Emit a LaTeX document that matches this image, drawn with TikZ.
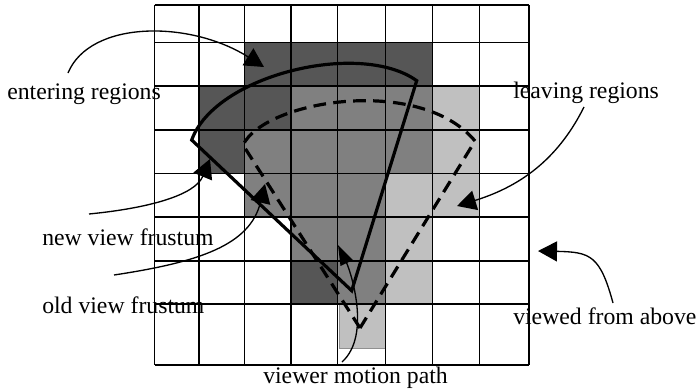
\documentclass[tikz,border=0pt]{standalone}
\usepackage{fontspec}
\setmainfont{Liberation Serif}
\usetikzlibrary{arrows.meta}
\definecolor{dkcell}{RGB}{86,86,86}
\definecolor{mdcell}{RGB}{128,128,128}
\definecolor{ltcell}{RGB}{192,192,192}
\begin{document}
\begin{tikzpicture}[x=0.75pt,y=-0.75pt,
  gridline/.style={line width=1.2pt, black},
  darkcell/.style={fill=dkcell, draw=dkcell!85!black, line width=0.6pt},
  midcell/.style={fill=mdcell, draw=mdcell!85!black, line width=0.6pt},
  lightcell/.style={fill=ltcell, draw=ltcell!75!black, line width=0.6pt},
  lbl/.style={font=\fontsize{17.8pt}{20pt}\selectfont, inner sep=0pt, anchor=base west},
  pointer/.style={line width=1pt, -{Triangle[length=14.25pt,width=15pt]}},
  motionarrow/.style={line width=1pt, -{Triangle[length=15pt,width=10pt]}},
  frust/.style={line width=2.4pt, line join=miter},
  oldfrust/.style={frust, dash pattern=on 9.5pt off 5.5pt}
]
\useasboundingbox (0,0) rectangle (698,389);

% grid line positions
\def\Xa{154.5}\def\Xb{198.7}\def\Xc{244.5}\def\Xd{291}\def\Xe{337.3}
\def\Xf{385.5}\def\Xg{432.3}\def\Xh{479.5}\def\Xi{529}
\def\Ya{5}\def\Yb{42.3}\def\Yc{86}\def\Yd{130}\def\Ye{173.3}
\def\Yf{216.7}\def\Yg{260.7}\def\Yh{303.7}\def\Yi{365}

% dark cells (entering regions)
\draw[darkcell] (\Xc,\Yb) rectangle (\Xg,\Yc);
\draw[darkcell] (\Xb,\Yc) rectangle (\Xd,\Yd);
\draw[darkcell] (\Xb,\Yd) rectangle (\Xc,\Ye);
\draw[darkcell] (\Xd,\Yg) rectangle (\Xe,\Yh);
% medium cells (kept regions)
\draw[midcell] (\Xd,\Yc) rectangle (\Xg,\Yd);
\draw[midcell] (\Xc,\Yd) rectangle (\Xg,\Ye);
\draw[midcell] (\Xc,\Ye) rectangle (\Xf,\Yf);
\draw[midcell] (\Xd,\Yf) rectangle (\Xf,\Yg);
\draw[midcell] (\Xe,\Yg) rectangle (\Xf,\Yh);
% light cells (leaving regions)
\draw[lightcell] (\Xg,\Yc) rectangle (\Xh,\Ye);
\draw[lightcell] (\Xf,\Ye) rectangle (\Xh,\Yf);
\draw[lightcell] (\Xf,\Yf) rectangle (\Xg,\Yh);
\draw[lightcell] (339,\Yh) rectangle (\Xf,348);

% grid
\foreach \x in {\Xa,\Xb,\Xc,\Xd,\Xe,\Xf,\Xg,\Xh,\Xi}
  \draw[gridline] (\x,\Ya) -- (\x,\Yi);
\foreach \y in {\Ya,\Yb,\Yc,\Yd,\Ye,\Yf,\Yg,\Yh,\Yi}
  \draw[gridline] (\Xa,\y) -- (\Xi,\y);

% old view frustum (dashed)
\coordinate (oA) at (360,328);
\coordinate (oL) at (243,145);
\coordinate (oR) at (475,141);
\draw[oldfrust] (oA) -- (oL) .. controls (265,100) and (420,75) .. (oR) -- cycle;

% new view frustum (solid)
\coordinate (nA) at (351.7,290.7);
\coordinate (nL) at (191.7,140);
\coordinate (nR) at (416.7,80.7);
\draw[frust] (nA) -- (nL) .. controls (215,75) and (360,40) .. (nR) -- cycle;

% labels
\node[lbl] (entering) at (7,99) {entering regions};
\node[lbl] (leaving) at (513,98) {leaving regions};
\node[lbl] (newf) at (42,245) {new view frustum};
\node[lbl] (oldf) at (42,313) {old view frustum};
\node[lbl] (above) at (513,324) {viewed from above};
\node[lbl] (motion) at (263,383) {viewer motion path};

% pointer ends
\coordinate (entS) at (68,73);
\coordinate (entT) at (264,67);
\coordinate (leaS) at (584,107);
\coordinate (leaT) at (457,206);
\coordinate (newS) at (89,214);
\coordinate (newT) at (210,159);
\coordinate (oldS) at (114,275);
\coordinate (oldT) at (265,184);
\coordinate (abvS) at (613,303);
\coordinate (abvT) at (538,251);
\coordinate (motS) at (342,362);
\coordinate (motT) at (338,245);

\draw[pointer] (entS) .. controls (90,20) and (190,20) .. (entT);
\draw[pointer] (leaS) .. controls (560,155) and (525,185) .. (leaT);
\draw[pointer] (newS) .. controls (150,208) and (195,195) .. (newT);
\draw[pointer] (oldS) .. controls (200,262) and (250,245) .. (oldT);
\draw[pointer] (abvS) .. controls (600,255) and (590,252) .. (abvT);
\draw[motionarrow] (motS) .. controls (372,335) and (350,270) .. (motT);
\end{tikzpicture}
\end{document}
